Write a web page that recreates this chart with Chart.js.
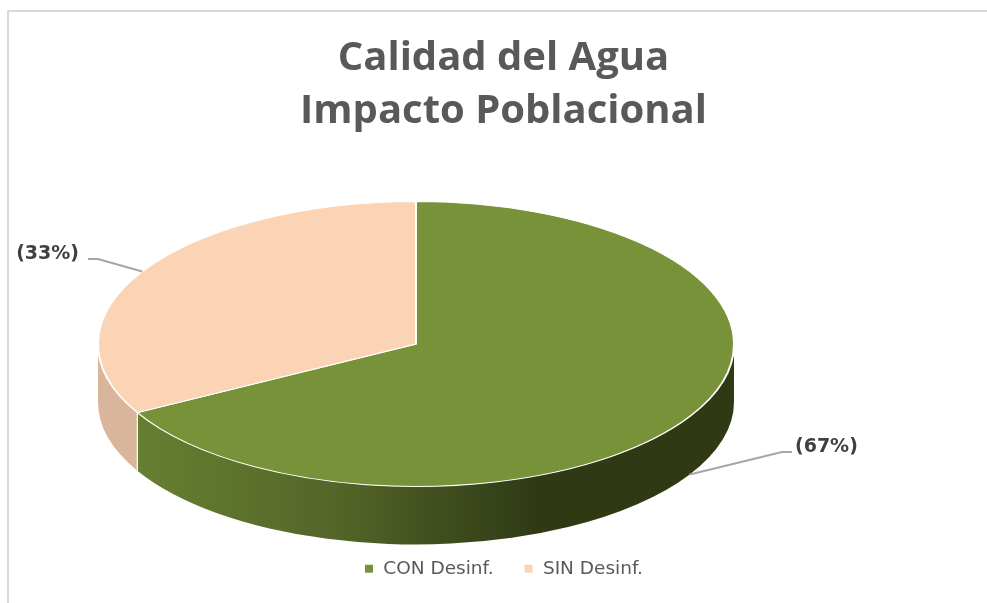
<!DOCTYPE html>
<html><head><meta charset="utf-8">
<style>html,body{margin:0;padding:0;background:#fff;overflow:hidden}#w{position:relative;width:987px;height:603px}</style>
<script src="https://cdn.jsdelivr.net/npm/chart.js@4"></script>
</head><body><div id="w"><canvas id="c" width="987" height="603"></canvas></div>
<script>
const categories = ["CON Desinf.", "SIN Desinf."];
const values = [67, 33];
const colors = ["#78923a", "#fbd4b5"];
const wallColors = [null, "#d9b59b"];
const titleLines = ["Calidad del Agua", "Impacto Poblacional"];

const CX = 416, CY = 344, RY_RATIO = 0.448, DEPTH = 58;
const pie3d = {
  id: "pie3d",
  beforeDatasetsDraw(chart) {
    const ctx = chart.ctx;
    const arcs = chart.getDatasetMeta(0).data;
    const R = arcs[0].outerRadius, Ry = R * RY_RATIO;
    ctx.save();
    // frame
    ctx.strokeStyle = "#d9d9d9"; ctx.lineWidth = 2;
    ctx.beginPath(); ctx.moveTo(8, 603); ctx.lineTo(8, 11); ctx.lineTo(987, 11); ctx.stroke();
    // side wall: the part of each slice on the front half of the ellipse
    arcs.forEach((a, i) => {
      [-2, 0, 2].forEach(k => {
        const p = Math.max(a.startAngle + k * Math.PI, 0);
        const q = Math.min(a.endAngle + k * Math.PI, Math.PI);
        if (q <= p) return;
        ctx.beginPath();
        ctx.ellipse(CX, CY, R, Ry, 0, p, q);
        ctx.ellipse(CX, CY + DEPTH, R, Ry, 0, q, p, true);
        ctx.closePath();
        if (wallColors[i]) ctx.fillStyle = wallColors[i];
        else {
          const g = ctx.createLinearGradient(137, 0, 540, 0);
          g.addColorStop(0, "#677f31");
          g.addColorStop(0.5, "#546528");
          g.addColorStop(0.8, "#3d4a1c");
          g.addColorStop(1, "#2f3a15");
          ctx.fillStyle = g;
        }
        ctx.fill();
        if (i === 1) {
          ctx.strokeStyle = "#ffffff"; ctx.lineWidth = 1.2;
          const x = CX + R * Math.cos(p), y = CY + Ry * Math.sin(p);
          ctx.beginPath(); ctx.moveTo(x, y); ctx.lineTo(x, y + DEPTH); ctx.stroke();
        }
      });
    });
    ctx.restore();
    ctx.save();
    const ax = arcs[0].x, ay = arcs[0].y;
    ctx.translate(CX, CY); ctx.scale(1, RY_RATIO); ctx.translate(-ax, -ay);
  },
  afterDatasetsDraw(chart) {
    const ctx = chart.ctx;
    ctx.restore();
    const arcs = chart.getDatasetMeta(0).data;
    const total = values.reduce((p, v) => p + v, 0);
    ctx.save();
    arcs.forEach((a, i) => {
      const m = (a.startAngle + a.endAngle) / 2, R = a.outerRadius, Ry = R * RY_RATIO;
      const px = CX + R * Math.cos(m);
      const py = CY + Ry * Math.sin(m) + (Math.sin(m) > 0 ? DEPTH : 0);
      const right = Math.cos(m) > 0;
      const ex = right ? 782 : 98, ey = right ? 452 : 259, tx = right ? 792 : 88;
      ctx.strokeStyle = "#a6a6a6"; ctx.lineWidth = 2;
      ctx.beginPath(); ctx.moveTo(px, py); ctx.lineTo(ex, ey); ctx.lineTo(tx, ey); ctx.stroke();
      ctx.fillStyle = "#404040";
      ctx.font = "bold 19px 'DejaVu Sans'";
      ctx.textBaseline = "middle";
      ctx.textAlign = right ? "left" : "right";
      ctx.fillText("(" + Math.round(values[i] / total * 100) + "%)", right ? 795 : 79, ey - 5);
    });
    ctx.restore();
  }
};

new Chart(document.getElementById("c"), {
  type: "pie",
  data: { labels: categories, datasets: [{
    data: values, backgroundColor: colors, borderColor: "#ffffff", borderWidth: 2, radius: 318, clip: false
  }]},
  plugins: [pie3d],
  options: {
    responsive: false, animation: false, events: [],
    layout: { padding: { left: 20, right: 0, top: 32, bottom: 15 } },
    plugins: {
      tooltip: { enabled: false },
      title: { display: true, text: titleLines, color: "#595959",
        font: { family: "'Open Sans'", size: 40, weight: "bold", lineHeight: 1.33 }, padding: { top: 0, bottom: 0 } },
      legend: { position: "bottom",
        labels: { color: "#595959", font: { family: "'DejaVu Sans'", size: 18.5 }, usePointStyle: true, pointStyle: "rect", boxWidth: 10, boxHeight: 10, padding: 30 } }
    }
  }
});
</script></body></html>
